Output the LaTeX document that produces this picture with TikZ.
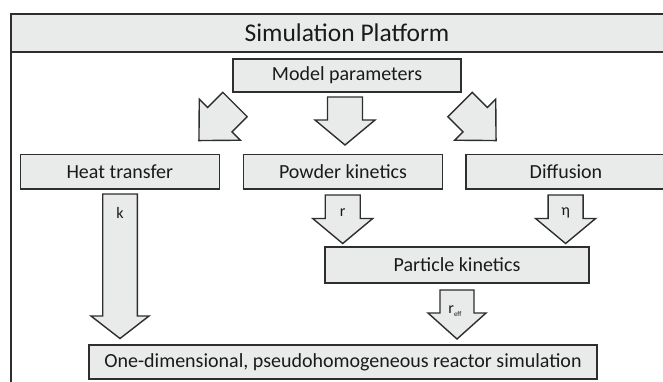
\documentclass[tikz,border=0pt]{standalone}
\usepackage{fontspec}
\setmainfont{Carlito}
\usetikzlibrary{calc}
\definecolor{boxgray}{HTML}{E9EAEA}
\definecolor{linegray}{HTML}{2E2E2E}
\definecolor{txt}{HTML}{1A1A1A}
% #1 tail, #2 angle, #3 total length, #4 head length, #5 shaft half-width, #6 head half-width
\newcommand{\blockarrow}[6]{%
  \begin{scope}[shift={(#1)},rotate=#2]
    \draw[barrow] (0,#5) -- ({#3-#4},#5) -- ({#3-#4},#6) -- (#3,0)
      -- ({#3-#4},-#6) -- ({#3-#4},-#5) -- (0,-#5) -- cycle;
  \end{scope}}
\begin{document}
\begin{tikzpicture}[x=1pt,y=1pt,
  box/.style={draw=linegray, fill=boxgray, line width=1.4pt, inner sep=0pt,
    text=txt, font=\fontsize{20}{24}\selectfont},
  barrow/.style={draw=linegray, fill=boxgray, line width=1.4pt, line join=miter},
  lbl/.style={text=txt, font=\fontsize{16}{19}\selectfont, inner sep=0pt}]
\useasboundingbox (0,0) rectangle (663,-381);
\clip (0,0) rectangle (663,-381);
\fill[white] (0,0) rectangle (663,-381);
% frame and title band
\fill[white] (11,-14) rectangle (690,-400);
\draw[line width=1.9pt, draw=linegray, fill=boxgray] (11,-14) rectangle (690,-52);
\draw[line width=2.5pt, draw=linegray] (11,-14) rectangle (690,-400);
\node[text=txt, font=\fontsize{25.5}{30}\selectfont, inner sep=0pt] (title) at (347,-33) {Simulation Platform};
% boxes
\node[box, minimum width=228pt, minimum height=33pt] (params) at (347,-75.5) {Model parameters};
\node[box, minimum width=199pt, minimum height=34.7pt] (heat) at (119.8,-171.7) {Heat transfer};
\node[box, minimum width=199.4pt, minimum height=34.7pt] (powder) at (343,-171.7) {Powder kinetics};
\node[box, minimum width=200pt, minimum height=34.7pt] (diff) at (566,-171.7) {Diffusion};
\node[box, minimum width=264pt, minimum height=36pt] (particle) at (457,-265) {Particle kinetics};
\node[box, minimum width=508pt, minimum height=34pt] (final) at (343,-362) {One-dimensional, pseudohomogeneous reactor simulation};
% arrow tails
\coordinate (tL) at (235,-104.5);
\coordinate (tM) at (345,-97);
\coordinate (tR) at (460,-104.5);
\coordinate (tk) at (120,-194);
\coordinate (tr) at (342.7,-195);
\coordinate (teta) at (565.6,-195);
\coordinate (teff) at (457,-290);
% block arrows
\blockarrow{tL}{-135}{51}{29.5}{17.3}{29}
\blockarrow{tM}{-90}{48}{25}{17.5}{30}
\blockarrow{tR}{-45}{51}{29.5}{17.3}{29}
\blockarrow{tk}{-90}{144.5}{22.5}{17.3}{29}
\blockarrow{tr}{-90}{48.5}{25}{17.5}{30}
\blockarrow{teta}{-90}{48.5}{25}{17.5}{30}
\blockarrow{teff}{-90}{49}{26}{17}{29}
% labels
\node[lbl] (klbl) at (120,-213) {k};
\node[lbl] (rlbl) at (342.7,-213) {r};
\node[lbl] (etalbl) at (565.6,-213) {η};
\node[lbl] (efflbl) at (455,-311) {r\raisebox{-3pt}{\fontsize{7}{8}\selectfont eff}};
\end{tikzpicture}
\end{document}
